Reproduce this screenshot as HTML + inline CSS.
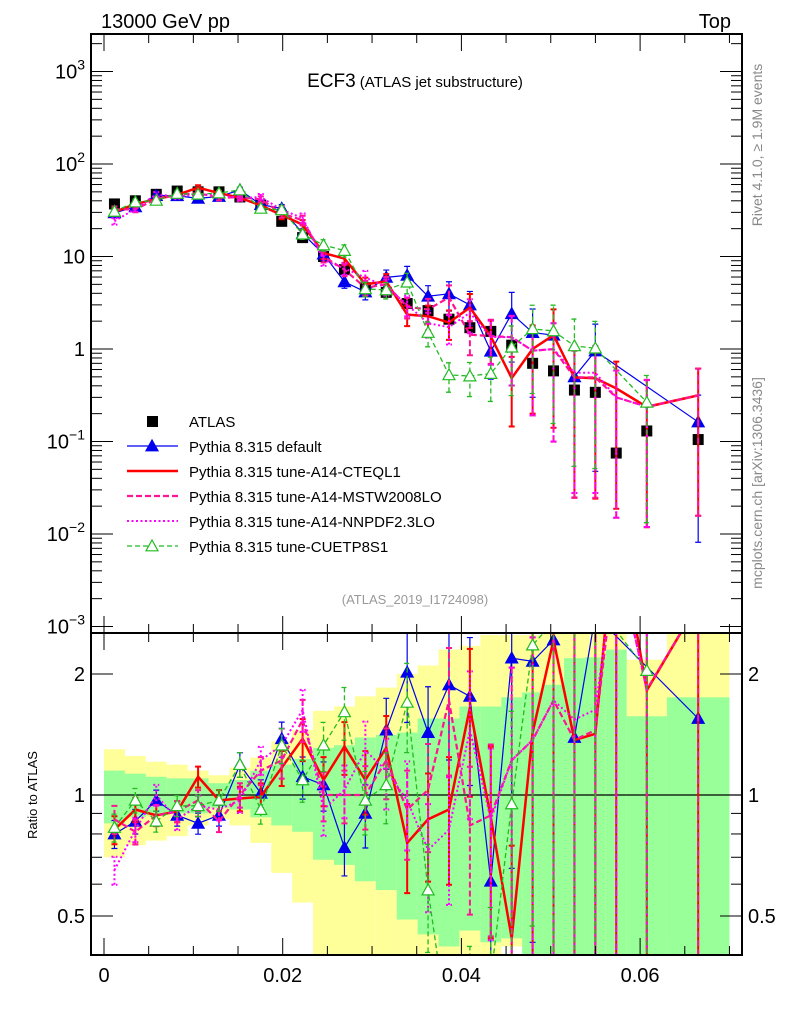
<!DOCTYPE html>
<html><head><meta charset="utf-8"><style>
html,body{margin:0;padding:0;background:#fff;width:786px;height:1024px;overflow:hidden;}
svg{display:block;font-family:"Liberation Sans",sans-serif;}
</style></head><body>
<svg id="chart" width="786" height="1024" viewBox="0 0 786 1024" xmlns="http://www.w3.org/2000/svg">
<defs>
<clipPath id="cm"><rect x="91" y="34" width="651" height="599"/></clipPath>
<clipPath id="cr"><rect x="91" y="633" width="651" height="322"/></clipPath>
</defs>
<g id="bands" clip-path="url(#cr)"></g>
<g id="ratio" clip-path="url(#cr)"></g>
<g id="main" clip-path="url(#cm)"></g>
<g id="axes"></g>
<text x="101" y="28" font-size="20">13000 GeV pp</text>
<text x="731" y="28" font-size="20" text-anchor="end">Top</text>
<text x="415" y="87" text-anchor="middle"><tspan font-size="19">ECF3</tspan><tspan font-size="15"> (ATLAS jet substructure)</tspan></text>
<text x="415" y="604" text-anchor="middle" font-size="13" fill="#999">(ATLAS_2019_I1724098)</text>
<text transform="translate(762,145) rotate(-90)" text-anchor="middle" font-size="14" fill="#888">Rivet 4.1.0, ≥ 1.9M events</text>
<text transform="translate(762,483) rotate(-90)" text-anchor="middle" font-size="14" fill="#888">mcplots.cern.ch [arXiv:1306.3436]</text>
<text transform="translate(37,795) rotate(-90)" text-anchor="middle" font-size="13">Ratio to ATLAS</text>
<g id="legend"></g>
</svg>
<script>
const edges = [0,0.00234,0.00468,0.00702,0.00936,0.0117,0.01404,0.01638,0.01872,0.02106,0.0234,0.02574,0.02808,0.03042,0.03276,0.0351,0.03744,0.03978,0.04212,0.04446,0.0468,0.04914,0.05148,0.05382,0.05616,0.0585,0.063,0.070];
const atlas = [37,40,47,51,50,50,44,36,24,16,10,7.2,4.6,4.1,3.1,2.6,2.1,1.7,1.55,1.1,0.7,0.58,0.36,0.34,0.075,0.13,0.105];
const atlasErr = [0.05,0.05,0.05,0.05,0.05,0.05,0.05,0.06,0.07,0.08,0.1,0.1,0.12,0.12,0.14,0.15,0.15,0.16,0.18,0.2,0.22,0.25,0.3,0.3,0.4,0.4,0.4];
const greenUp = [1.15,1.13,1.11,1.10,1.10,1.07,1.09,1.15,1.19,1.23,1.31,1.33,1.39,1.41,1.43,1.55,1.55,1.66,1.66,1.75,1.8,1.88,2.19,2.2,2.3,1.57,1.75];
const greenDn = [0.85,0.88,0.89,0.90,0.90,0.93,0.92,0.88,0.84,0.81,0.69,0.67,0.61,0.58,0.49,0.45,0.42,0.46,0.43,0.44,0.4,0.38,0.38,0.38,0.38,0.38,0.38];
const yellowUp = [1.30,1.25,1.21,1.19,1.15,1.12,1.17,1.24,1.36,1.45,1.62,1.66,1.76,1.85,2.0,2.1,2.3,2.35,2.5,2.5,2.5,2.6,2.6,2.6,2.6,2.17,2.6];
const yellowDn = [0.70,0.75,0.77,0.79,0.84,0.87,0.84,0.76,0.64,0.54,0.38,0.38,0.38,0.38,0.38,0.38,0.38,0.38,0.38,0.42,0.38,0.38,0.38,0.38,0.38,0.45,0.38];
const rDefault = [0.80,0.86,0.97,0.89,0.85,0.89,1.19,1.01,1.38,1.11,1.06,0.74,0.90,1.45,2.02,1.43,1.88,1.76,0.61,2.19,2.15,2.43,1.39,2.8,null,null,1.55];
const rCTEQ = [0.82,0.92,0.89,0.91,1.11,0.97,0.98,0.99,1.17,1.38,1.09,1.32,1.09,1.31,0.76,0.87,0.92,1.65,0.88,0.44,1.43,2.43,1.37,1.42,5.0,1.82,3.0];
const rMSTW = [0.87,0.81,0.89,0.91,0.97,0.86,1.0,1.15,1.22,1.54,1.0,1.0,1.0,1.22,0.92,1.03,1.72,0.84,0.89,1.22,1.37,1.72,1.37,1.45,4.0,1.83,3.0];
const rNNPDF = [0.65,0.82,1.0,0.87,0.94,0.92,0.97,1.22,1.33,1.63,0.92,1.03,1.29,1.15,0.97,0.73,0.82,1.45,0.87,1.22,1.37,1.72,1.54,1.63,4.0,1.83,null];
const rCUETP = [0.83,0.97,0.86,0.94,0.94,0.97,1.19,0.92,1.33,1.09,1.33,1.61,0.97,1.06,1.70,0.58,0.25,0.30,0.35,0.95,2.36,2.7,3.0,3.0,null,2.04,null];
const mcErr = [0.08,0.07,0.06,0.06,0.06,0.06,0.07,0.08,0.1,0.12,0.14,0.15,0.18,0.2,0.25,0.3,0.35,0.4,0.5,0.7,0.8,0.9,0.95,0.95,0.95,0.95,0.95];
const xTicks = [0,0.02,0.04,0.06];
const xTickLabels = ["0","0.02","0.04","0.06"];
const ratioTicks = [0.5,1,2];
const ratioTickLabels = ["0.5","1","2"];

const NS="http://www.w3.org/2000/svg";
const X = v => 104 + v*8935;
const YM = v => 349 - 92.5*Math.log10(v);
const YR = r => 795 - 121*Math.log2(r);
const centers = atlas.map((_,i)=>(edges[i]+edges[i+1])/2);
function mk(tag, attrs, parent){const e=document.createElementNS(NS,tag);for(const k in attrs)e.setAttribute(k,attrs[k]);parent.appendChild(e);return e;}
const gB=document.getElementById('bands'), gR=document.getElementById('ratio'), gM=document.getElementById('main'), gA=document.getElementById('axes'), gL=document.getElementById('legend');

atlas.forEach((d,i)=>{
  const x0=X(edges[i]), x1=X(edges[i+1]);
  const ry=mk('rect',{x:x0,y:YR(yellowUp[i]),width:x1-x0,height:YR(yellowDn[i])-YR(yellowUp[i]),fill:'#ffff99'},gB);
  
  
});
atlas.forEach((d,i)=>{
  const x0=X(edges[i]), x1=X(edges[i+1]);
  const rg=mk('rect',{x:x0,y:YR(greenUp[i]),width:x1-x0,height:YR(greenDn[i])-YR(greenUp[i]),fill:'#99ff99'},gB);
  
  
});
const one=mk('line',{x1:91,x2:742,y1:YR(1),y2:YR(1),stroke:'#000','stroke-width':1.2},gR);



const series=[
 {name:'Pythia 8.315 default',r:rDefault,color:'#0000ee',w:1.2,dash:'',marker:'tri-fill',key:'default'},
 {name:'Pythia 8.315 tune-A14-CTEQL1',r:rCTEQ,color:'#ff0000',w:2.5,dash:'',marker:'',key:'a14-cteql1'},
 {name:'Pythia 8.315 tune-A14-MSTW2008LO',r:rMSTW,color:'#ff1493',w:2.2,dash:'6,3',marker:'',key:'a14-mstw2008lo'},
 {name:'Pythia 8.315 tune-A14-NNPDF2.3LO',r:rNNPDF,color:'#ff00ff',w:2,dash:'2,2.5',marker:'',key:'a14-nnpdf23lo'},
 {name:'Pythia 8.315 tune-CUETP8S1',r:rCUETP,color:'#22bb22',w:1.3,dash:'5,3',marker:'tri-open',key:'cuetp8s1'}
];
function tri(g,x,y,c,open){const s=6;return mk('polygon',{points:`${x},${y-s} ${x-s},${y+s*0.8} ${x+s},${y+s*0.8}`,fill:open?'#fff':c,stroke:c,'stroke-width':1.2},g);}
function drawSeries(s,g,yf,valf){
  const pts=[];
  s.r.forEach((r,i)=>{ if(r===null) return; const v=valf(r,i); pts.push([X(centers[i]),yf(v),i,v]); });
  const grp=mk('g',{},g);
  
  
  pts.forEach(p=>{
    const e=mcErr[p[2]], lo=Math.max(p[3]*(1-e),p[3]*0.02), hi=p[3]*(1+e);
    const eb=mk('path',{d:`M${p[0]},${yf(lo)}V${yf(hi)}M${p[0]-3},${yf(lo)}h6M${p[0]-3},${yf(hi)}h6`,stroke:s.color,'stroke-width':Math.min(s.w,2),'stroke-dasharray':s.dash,fill:'none'},grp);
    
    
  });
  const ln=mk('polyline',{points:pts.map(p=>p[0]+','+p[1]).join(' '),fill:'none',stroke:s.color,'stroke-width':s.w,'stroke-dasharray':s.dash},grp);
  
  
  if(s.marker) pts.forEach(p=>{const t=tri(grp,p[0],p[1],s.color,s.marker==='tri-open');
    
    });
}
series.forEach(s=>drawSeries(s,gR,YR,(r)=>r));
atlas.forEach((d,i)=>{
  const x=X(centers[i]);
  const eb=mk('path',{d:`M${x},${YM(d*(1-atlasErr[i]))}V${YM(d*(1+atlasErr[i]))}`,stroke:'#000','stroke-width':1.2},gM);
  
  
  const sq=mk('rect',{x:x-5.5,y:YM(d)-5.5,width:11,height:11,fill:'#000'},gM);
  
  
});
series.forEach(s=>drawSeries(s,gM,YM,(r,i)=>r*atlas[i]));

[[91,34,651,599],[91,633,651,322]].forEach((f,k)=>{
  const r=mk('rect',{x:f[0],y:f[1],width:f[2],height:f[3],fill:'none',stroke:'#000','stroke-width':2},gA);
  
  
});
for(let k=0;k<=14;k++){
  const v=k*0.005, x=X(v), L=(k%4===0)?17:9;
  mk('line',{x1:x,x2:x,y1:34,y2:34+L,stroke:'#000','stroke-width':1},gA);
  mk('line',{x1:x,x2:x,y1:633,y2:633-L,stroke:'#000','stroke-width':1},gA);
  mk('line',{x1:x,x2:x,y1:633,y2:633+L,stroke:'#000','stroke-width':1},gA);
  mk('line',{x1:x,x2:x,y1:955,y2:955-L,stroke:'#000','stroke-width':1},gA);
}
xTicks.forEach((v,i)=>{
  const t=mk('text',{x:X(v),y:982,'font-size':20,'text-anchor':'middle'},gA);
  t.textContent=xTickLabels[i];
  
  
});
for(let e=-3;e<=3;e++){
  for(let m=1;m<10;m++){
    const y=YM(m*Math.pow(10,e)); if(y<34||y>633) continue;
    const L=m===1?22:11;
    mk('line',{x1:91,x2:91+L,y1:y,y2:y,stroke:'#000','stroke-width':1},gA);
    mk('line',{x1:742,x2:742-L,y1:y,y2:y,stroke:'#000','stroke-width':1},gA);
  }
  const y=YM(Math.pow(10,e));
  const t=mk('text',{x:85,y:y+7,'font-size':20,'text-anchor':'end'},gA);
  
  
  if(e===0) t.textContent='1'; else if(e===1) t.textContent='10';
  else {t.textContent='10'; const s=mk('tspan',{dy:-9,'font-size':14},t); s.textContent=String(e).replace('-','−');}
}
[0.4,0.5,0.6,0.7,0.8,0.9,1,2].forEach(r=>{
  const y=YR(r), L=(r===0.5||r===1||r===2)?22:11;
  mk('line',{x1:91,x2:91+L,y1:y,y2:y,stroke:'#000','stroke-width':1},gA);
  mk('line',{x1:742,x2:742-L,y1:y,y2:y,stroke:'#000','stroke-width':1},gA);
});
ratioTicks.forEach((r,i)=>{
  const y=YR(r)+7;
  const a=mk('text',{x:85,y:y,'font-size':20,'text-anchor':'end'},gA); a.textContent=ratioTickLabels[i];
  
  
  const b=mk('text',{x:748,y:y,'font-size':20},gA); b.textContent=ratioTickLabels[i];
  
  
});
const ly0=421, ldy=25;
const le0=mk('g',{},gL);


mk('rect',{x:147,y:ly0-5,width:11,height:11,fill:'#000'},le0);
const lt0=mk('text',{x:189,y:ly0+6,'font-size':15},le0); lt0.textContent='ATLAS';
series.forEach((s,k)=>{
  const y=ly0+ldy*(k+1);
  const g=mk('g',{},gL);
  
  
  mk('line',{x1:127,x2:178,y1:y,y2:y,stroke:s.color,'stroke-width':s.w,'stroke-dasharray':s.dash},g);
  if(s.marker) tri(g,152,y,s.color,s.marker==='tri-open');
  const t=mk('text',{x:189,y:y+6,'font-size':15},g); t.textContent=s.name;
});
</script>
</body></html>
